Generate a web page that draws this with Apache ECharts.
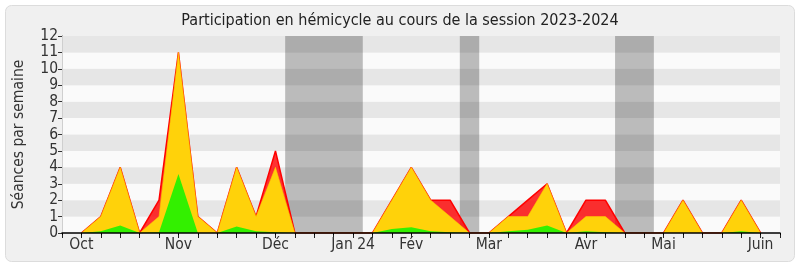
<!DOCTYPE html>
<html>
<head>
<meta charset="utf-8">
<script src="https://cdn.jsdelivr.net/npm/echarts@6/dist/echarts.min.js"></script>
<style>
html,body{margin:0;padding:0;background:#ffffff;}
#c{width:800px;height:267px;}
</style>
</head>
<body>
<div id="c"></div>
<script>
// Week index 0..37
const weekLabels = ['', 'Oct', '', '', '', '', 'Nov', '', '', '', '', 'Déc', '', '', '', 'Jan 24', '', '', 'Fév', '', '', '', 'Mar', '', '', '', '', 'Avr', '', '', '', 'Mai', '', '', '', '', 'Juin', ''];
const totalValues =  [null, 0, 1, 4, 0, 2, 11, 1, 0, 4, 1, 5, 0, 0, 0, 0, 0, 2, 4, 2, 2, 0, 0, 1, 2, 3, 0, 2, 2, 0, 0, 0, 2, 0, 0, 2, 0, null];
const midValues =    [null, 0, 1, 4, 0, 1, 11, 1, 0, 4, 1, 4, 0, 0, 0, 0, 0, 2, 4, 2, 1, 0, 0, 1, 1, 3, 0, 1, 1, 0, 0, 0, 2, 0, 0, 2, 0, null];
const lowValues =    [null, 0, 0.1, 0.45, 0, 0.05, 3.6, 0, 0, 0.4, 0.1, 0.05, 0, 0, 0, 0, 0, 0.25, 0.35, 0.1, 0.05, 0, 0, 0.1, 0.2, 0.45, 0, 0.1, 0.05, 0, 0, 0, 0, 0, 0, 0.1, 0, null];
const holidays = [[11.5, 15.5], [20.5, 21.5], [28.5, 30.5]];
const yTicks = [0,1,2,3,4,5,6,7,8,9,10,11,12];

const FONT = 'DejaVu Sans Condensed, DejaVu Sans, sans-serif';
const toPairs = arr => arr.map((v, i) => [i, v]);

const chart = echarts.init(document.getElementById('c'), null, {renderer: 'canvas'});
chart.setOption({
  backgroundColor: '#ffffff',
  animation: false,
  graphic: [{
    type: 'rect', z: -10, silent: true,
    shape: {x: 5.5, y: 5.5, width: 789, height: 256, r: 6},
    style: {fill: '#f0f0f0', stroke: '#dcdcdc', lineWidth: 1}
  }],
  title: {
    text: 'Participation en hémicycle au cours de la session 2023-2024',
    left: 'center', top: 8,
    textStyle: {fontFamily: FONT, fontSize: 16, fontWeight: 'normal', color: '#222'}
  },
  grid: {left: 62, right: 20, top: 36, bottom: 34},
  xAxis: [{
    type: 'value', min: 0, max: 37, interval: 1, z: 10,
    axisLine: {show: true, onZero: false, lineStyle: {color: '#000', width: 1.5}},
    axisTick: {show: true, length: 5, lineStyle: {color: '#222'}},
    axisLabel: {
      fontFamily: FONT, fontSize: 15.5, color: '#333', margin: 4,
      formatter: v => weekLabels[v] || ''
    },
    splitLine: {show: false}
  }, {
    type: 'value', min: 0, max: 37, interval: 1, position: 'top', z: 10,
    axisLine: {show: false},
    axisTick: {show: true, inside: true, length: 2, lineStyle: {color: '#000'}},
    axisLabel: {show: false},
    splitLine: {show: false}
  }],
  yAxis: [{
    type: 'value', min: 0, max: 12, interval: 1,
    name: 'Séances par semaine', nameLocation: 'middle', nameGap: 35,
    nameTextStyle: {fontFamily: FONT, fontSize: 15.5, color: '#333'},
    axisLine: {show: true, lineStyle: {color: '#333'}},
    axisTick: {show: true, length: 4, lineStyle: {color: '#333'}},
    axisLabel: {fontFamily: FONT, fontSize: 15.5, color: '#333', margin: 4,
      formatter: v => yTicks.includes(v) ? String(v) : ''},
    splitLine: {show: false},
    splitArea: {show: true, areaStyle: {color: ['#fafafa', '#e6e6e6']}}
  }, {
    type: 'value', min: 0, max: 12, interval: 1, position: 'right',
    axisLine: {show: true, lineStyle: {color: '#cfcfcf'}},
    axisTick: {show: false}, axisLabel: {show: false}, splitLine: {show: false}
  }],
  series: [{
    type: 'line', z: 1, data: [[0, 0]], symbol: 'none',
    lineStyle: {opacity: 0}, silent: true,
    markArea: {
      silent: true,
      itemStyle: {color: 'rgba(0,0,0,0.25)'},
      data: holidays.map(h => [{xAxis: h[0]}, {xAxis: h[1]}])
    }
  }, {
    name: 'total', type: 'line', z: 2, data: toPairs(totalValues), symbol: 'none',
    lineStyle: {color: '#ff0000', width: 1.5},
    areaStyle: {color: 'rgba(255,0,0,0.8)', opacity: 1}
  }, {
    name: 'mid', type: 'line', z: 3, data: toPairs(midValues), symbol: 'none',
    lineStyle: {color: 'rgba(255,200,0,0.6)', width: 1},
    areaStyle: {color: '#ffd20a', opacity: 1}
  }, {
    name: 'low', type: 'line', z: 4, data: toPairs(lowValues), symbol: 'none',
    lineStyle: {width: 0, opacity: 0},
    areaStyle: {color: '#33f000', opacity: 1}
  }]
});
</script>
</body>
</html>
